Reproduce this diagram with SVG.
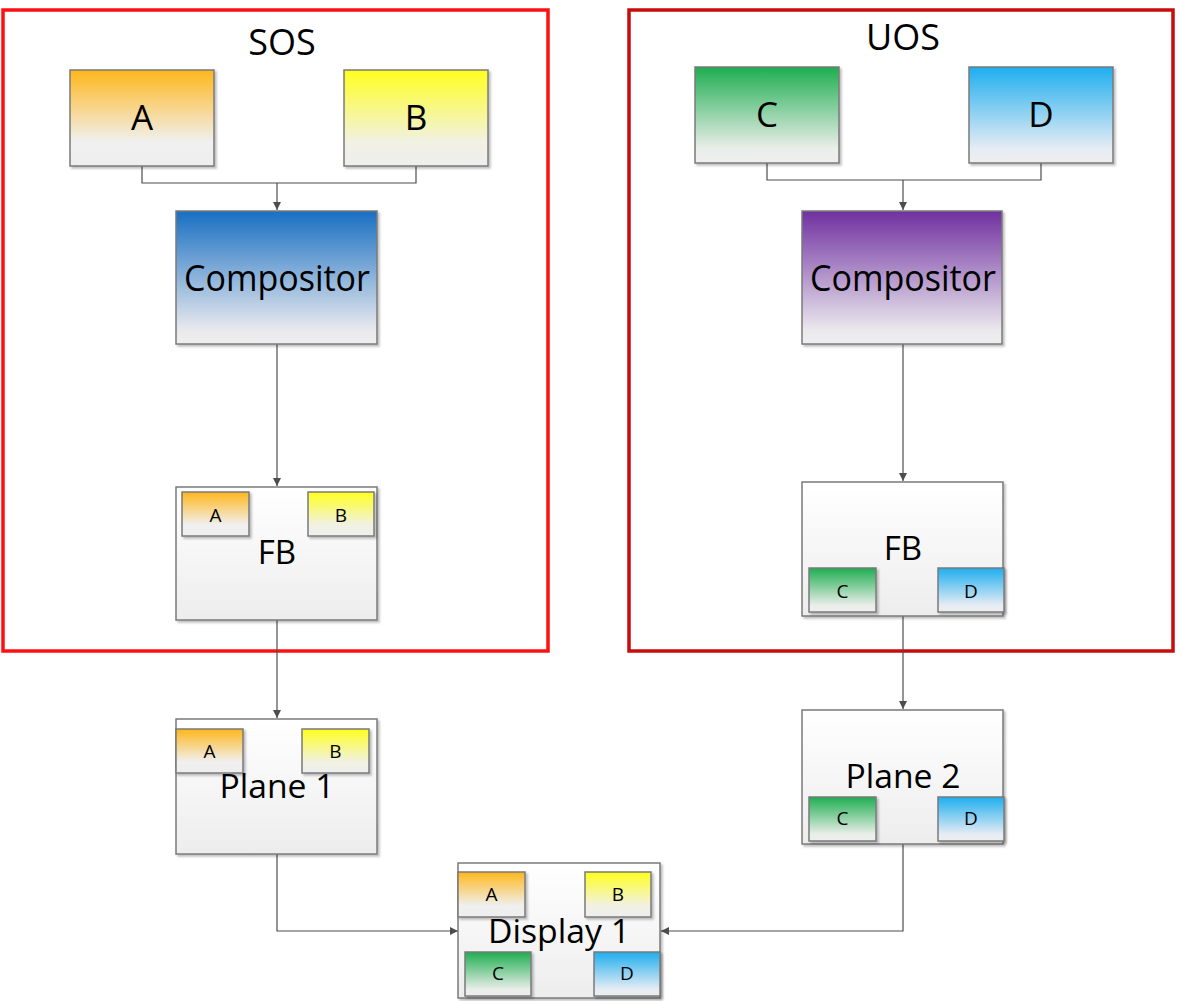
<svg xmlns="http://www.w3.org/2000/svg" width="1178" height="1001" viewBox="0 0 1178 1001">
<defs>
<linearGradient id="gOrange" x1="0" y1="0" x2="0" y2="1"><stop offset="0" stop-color="#ffb71b"/><stop offset="0.75" stop-color="#f0f0f0"/><stop offset="1" stop-color="#eeeeee"/></linearGradient>
<linearGradient id="gYellow" x1="0" y1="0" x2="0" y2="1"><stop offset="0" stop-color="#ffff1e"/><stop offset="0.75" stop-color="#f1f1e4"/><stop offset="1" stop-color="#eeeeee"/></linearGradient>
<linearGradient id="gGreen" x1="0" y1="0" x2="0" y2="1"><stop offset="0" stop-color="#1eae50"/><stop offset="0.85" stop-color="#eaeeea"/><stop offset="1" stop-color="#eeeeee"/></linearGradient>
<linearGradient id="gBlue" x1="0" y1="0" x2="0" y2="1"><stop offset="0" stop-color="#1eaeef"/><stop offset="0.85" stop-color="#e6ecf4"/><stop offset="1" stop-color="#eeeeee"/></linearGradient>
<linearGradient id="gComp" x1="0" y1="0" x2="0" y2="1"><stop offset="0" stop-color="#186fc2"/><stop offset="0.9" stop-color="#eaeaee"/><stop offset="1" stop-color="#eeeeee"/></linearGradient>
<linearGradient id="gPurple" x1="0" y1="0" x2="0" y2="1"><stop offset="0" stop-color="#7030a0"/><stop offset="0.9" stop-color="#ebe9ee"/><stop offset="1" stop-color="#eeeeee"/></linearGradient>
<linearGradient id="gPlain" x1="0" y1="0" x2="0" y2="1"><stop offset="0" stop-color="#ffffff"/><stop offset="1" stop-color="#ededed"/></linearGradient>
<filter id="sh" x="-10%" y="-10%" width="125%" height="125%"><feDropShadow dx="2" dy="2" stdDeviation="1.2" flood-color="#000" flood-opacity="0.25"/></filter>
<marker id="arr" viewBox="0 0 10 10" refX="10" refY="5" markerWidth="8" markerHeight="8" markerUnits="userSpaceOnUse" orient="auto"><path d="M0,0 L10,5 L0,10 z" fill="#4d4d4d"/></marker>
</defs>
<style>
.box{stroke:#7a7a7a;stroke-width:1.5;filter:url(#sh)}
.t{font-family:"Open Sans","Noto Sans",sans-serif;fill:#000;text-anchor:middle}
.ttl{font-size:36px}
.big{font-size:35px}
.mid{font-size:33px}
.sm{font-size:19px}
.con{fill:none;stroke:#4d4d4d;stroke-width:1.2}
.grp{fill:none;stroke-width:3.5}
</style>
<rect width="1178" height="1001" fill="#fff"/>
<g id="sos">
<rect class="grp" x="3" y="10" width="545" height="641" stroke="#ff1010"/>
<text class="t ttl" x="282" y="55">SOS</text>
</g>
<g id="uos">
<rect class="grp" x="629" y="10" width="544" height="641" stroke="#c80c0c"/>
<text class="t ttl" x="903" y="50">UOS</text>
</g>
<g id="connectors">
<polyline class="con" points="142,166 142,183 416,183 416,166"/>
<line class="con" x1="277" y1="183" x2="277" y2="210" marker-end="url(#arr)"/>
<line class="con" x1="277" y1="344" x2="277" y2="486" marker-end="url(#arr)"/>
<line class="con" x1="277" y1="620" x2="277" y2="718" marker-end="url(#arr)"/>
<polyline class="con" points="277,854 277,931 458,931" marker-end="url(#arr)"/>
<polyline class="con" points="767,163 767,180 1041,180 1041,163"/>
<line class="con" x1="903" y1="180" x2="903" y2="210" marker-end="url(#arr)"/>
<line class="con" x1="903" y1="344" x2="903" y2="481" marker-end="url(#arr)"/>
<line class="con" x1="903" y1="616" x2="903" y2="709" marker-end="url(#arr)"/>
<polyline class="con" points="903,844 903,931 661,931" marker-end="url(#arr)"/>
</g>
<g id="nodeA"><rect class="box" x="70" y="70" width="144" height="96" fill="url(#gOrange)"/><text class="t big" x="142" y="130">A</text></g>
<g id="nodeB"><rect class="box" x="344" y="70" width="144" height="96" fill="url(#gYellow)"/><text class="t big" x="416" y="130">B</text></g>
<g id="nodeC"><rect class="box" x="695" y="67" width="144" height="96" fill="url(#gGreen)"/><text class="t big" x="767" y="127">C</text></g>
<g id="nodeD"><rect class="box" x="969" y="67" width="144" height="96" fill="url(#gBlue)"/><text class="t big" x="1041" y="127">D</text></g>
<g id="compSOS"><rect class="box" x="176" y="211" width="201" height="133" fill="url(#gComp)"/><text class="t" font-size="37" x="277" y="291" textLength="186" lengthAdjust="spacingAndGlyphs">Compositor</text></g>
<g id="compUOS"><rect class="box" x="802" y="211" width="200" height="133" fill="url(#gPurple)"/><text class="t" font-size="37" x="903" y="291" textLength="186" lengthAdjust="spacingAndGlyphs">Compositor</text></g>
<g id="fbSOS">
<rect class="box" x="176" y="487" width="201" height="133" fill="url(#gPlain)"/>
<text class="t mid" x="277" y="564">FB</text>
<rect class="box" x="182" y="492" width="67" height="44" fill="url(#gOrange)"/><text class="t sm" x="215.5" y="522">A</text>
<rect class="box" x="308" y="492" width="66" height="44" fill="url(#gYellow)"/><text class="t sm" x="341" y="522">B</text>
</g>
<g id="fbUOS">
<rect class="box" x="802" y="482" width="201" height="134" fill="url(#gPlain)"/>
<text class="t mid" x="903" y="560">FB</text>
<rect class="box" x="809" y="568" width="67" height="44" fill="url(#gGreen)"/><text class="t sm" x="842.5" y="598">C</text>
<rect class="box" x="938" y="568" width="66" height="44" fill="url(#gBlue)"/><text class="t sm" x="971" y="598">D</text>
</g>
<g id="plane1">
<rect class="box" x="176" y="719" width="201" height="135" fill="url(#gPlain)"/>
<rect class="box" x="176" y="729" width="67" height="44" fill="url(#gOrange)"/><text class="t sm" x="209.5" y="758">A</text>
<rect class="box" x="302" y="729" width="67" height="44" fill="url(#gYellow)"/><text class="t sm" x="335.5" y="758">B</text>
<text class="t mid" x="277" y="798" textLength="115" lengthAdjust="spacingAndGlyphs">Plane 1</text>
</g>
<g id="plane2">
<rect class="box" x="802" y="710" width="201" height="134" fill="url(#gPlain)"/>
<text class="t mid" x="903" y="788" textLength="115" lengthAdjust="spacingAndGlyphs">Plane 2</text>
<rect class="box" x="809" y="797" width="67" height="44" fill="url(#gGreen)"/><text class="t sm" x="842.5" y="825">C</text>
<rect class="box" x="938" y="797" width="66" height="44" fill="url(#gBlue)"/><text class="t sm" x="971" y="825">D</text>
</g>
<g id="display1">
<rect class="box" x="458" y="863" width="202" height="135" fill="url(#gPlain)"/>
<rect class="box" x="458" y="872" width="67" height="45" fill="url(#gOrange)"/><text class="t sm" x="491.5" y="901">A</text>
<rect class="box" x="585" y="872" width="66" height="45" fill="url(#gYellow)"/><text class="t sm" x="618" y="901">B</text>
<text class="t mid" x="559" y="943" textLength="142" lengthAdjust="spacingAndGlyphs">Display 1</text>
<rect class="box" x="465" y="952" width="66" height="44" fill="url(#gGreen)"/><text class="t sm" x="498" y="980">C</text>
<rect class="box" x="594" y="952" width="66" height="44" fill="url(#gBlue)"/><text class="t sm" x="627" y="980">D</text>
</g>
</svg>
